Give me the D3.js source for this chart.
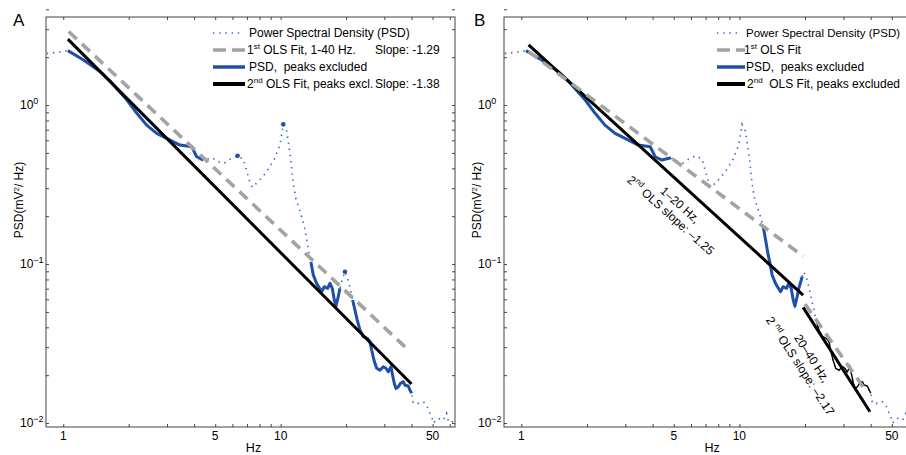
<!DOCTYPE html>
<html>
<head>
<meta charset="utf-8">
<script src="https://cdn.jsdelivr.net/npm/d3@7"></script>
<style>
  html, body { margin: 0; padding: 0; background: #fff; overflow: hidden; }
  svg { display: block; font-family: 'Liberation Sans', Arial, sans-serif; }
  text { white-space: pre; }
</style>
</head>
<body>
<svg width="906" height="455"></svg>
<script>
//  Power spectrum (Hz, mV^2/Hz)
const freqHz = [0.84, 0.97, 1.05, 1.24, 1.48, 1.64, 1.79, 1.96, 2.18, 2.42, 2.69, 2.99, 3.44, 3.90, 4.11, 4.41,
    4.85, 5.16, 5.49, 5.85, 6.34, 6.73, 6.90, 7.17, 7.40, 7.80, 8.56, 9.32, 9.93, 10.17, 10.28, 10.66, 10.92,
    11.15, 11.43, 11.72, 12.27, 12.84, 13.21, 13.54, 13.78, 14.13, 14.64, 15.44, 15.87, 16.45, 16.86, 17.28,
    17.65, 17.97, 18.41, 18.74, 19.41, 19.76, 20.33, 21.06, 21.44, 22.51, 23.16, 23.99, 25.02, 25.75, 26.22,
    26.87, 27.65, 28.63, 29.65, 30.51, 31.26, 32.17, 32.62, 33.32, 33.92, 34.75, 35.65, 36.64, 37.31, 38.64,
    39.34, 40.05, 40.74, 42.95, 45.29, 46.95, 47.75, 49.50, 50.35, 53.09, 55.98, 58.02, 59.02, 61.18, 63.36];
const psd = [2.11, 2.16, 2.20, 1.92, 1.62, 1.42, 1.24, 1.08, 0.887, 0.748, 0.664, 0.617, 0.560, 0.547, 0.473, 0.451,
    0.466, 0.440, 0.430, 0.457, 0.480, 0.457, 0.409, 0.338, 0.304, 0.325, 0.375, 0.451, 0.560, 0.686, 0.756, 0.686, 0.552,
    0.446, 0.322, 0.261, 0.215, 0.174, 0.140, 0.115, 0.103, 0.0853, 0.0756, 0.0670, 0.0720, 0.0704, 0.0756, 0.0704,
    0.0594, 0.0544, 0.0623, 0.0704, 0.0832, 0.0894, 0.0813, 0.0670, 0.0594, 0.0444, 0.0385, 0.0349, 0.0341, 0.0325, 0.0288,
    0.0249, 0.0221, 0.0215, 0.0226, 0.0221, 0.0210, 0.0226, 0.0205, 0.0178, 0.0165, 0.0169, 0.0178, 0.0182, 0.0173, 0.0171,
    0.0161, 0.0154, 0.0133, 0.0133, 0.0136, 0.0130, 0.0121, 0.0110, 0.0100, 0.0107, 0.0104, 0.0115, 0.0104, 0.0100, 0.0108];

//  Peak markers (panel A only)
const peakHz = [6.34, 10.28, 19.76];
const peakPsd = [0.480, 0.756, 0.0894];

//  Bands kept as "PSD, peaks excluded"  [from, to] Hz
const keptBandsA = [[1.05, 4.41], [13.78, 18.74], [21.44, 40.05]];
const keptBandsB = [[1.05, 4.85], [12.84, 19.41]];
const blackBandB = [22.51, 40.05];

//  OLS fits, end points [Hz] and [PSD]
const fit1A_hz = [1.06, 39];     const fit1A_psd = [2.9, 0.0285];
const fit2A_hz = [1.05, 40];     const fit2A_psd = [2.6, 0.0176];
const fit1Blo_hz = [1.08, 19.6]; const fit1Blo_psd = [2.17, 0.112];
const fit1Bhi_hz = [20, 38];     const fit1Bhi_psd = [0.056, 0.016];
const fit2Blo_hz = [1.08, 19.6]; const fit2Blo_psd = [2.39, 0.0638];
const fit2Bhi_hz = [19.6, 39.7]; const fit2Bhi_psd = [0.0534, 0.01178];

//  Axes
const xDomain = [0.833, 63.4];
const yDomain = [0.00944, 3.58];
const xTickLabels = [1, 5, 10, 50];
const xTicks = [1, 2, 3, 4, 5, 6, 7, 8, 9, 10, 20, 30, 40, 50, 60];
const yTickExp = [0, -1, -2];
const yTicks = [];
[0.01, 0.1, 1].forEach(d => { for (let k = 1; k <= 9; k++) yTicks.push(d * k); });

const BLUE = '#1f4fa8';
const DOT_BLUE = '#2f62cc';
const GRAY = '#a3a3a3';
const TOP = 17, BOTTOM = 427;

const svgHTML = d3.select('svg');

function pts(hz, p) { return hz.map((f, i) => [f, p[i]]); }
const psdPts = pts(freqHz, psd);
function inBand(band) { return psdPts.filter(d => d[0] >= band[0] - 1e-6 && d[0] <= band[1] + 1e-6); }

//======================================================
//  One panel: frame, ticks, labels
//======================================================
function makePanel(id, left, right) {
    const g = svgHTML.append('g').attr('id', id);
    const x = d3.scaleLog().domain(xDomain).range([left, right]);
    const y = d3.scaleLog().domain(yDomain).range([BOTTOM, TOP]);

    g.append('clipPath').attr('id', id + '_clip')
        .append('rect')
        .attr('x', left).attr('y', TOP)
        .attr('width', right - left).attr('height', BOTTOM - TOP);

    const axes = [
        [d3.axisBottom(x), BOTTOM, 0, xTicks],
        [d3.axisTop(x), TOP, 0, xTicks],
        [d3.axisLeft(y), 0, left, yTicks],
        [d3.axisRight(y), 0, right, yTicks]
    ];
    axes.forEach(([ax, ty, tx, vals]) => {
        const a = g.append('g')
            .attr('transform', `translate(${tx},${ty})`)
            .call(ax.tickValues(vals).tickSize(-3).tickSizeOuter(0).tickFormat(''));
        a.select('.domain').remove();
        a.selectAll('line').attr('stroke', '#444');
    });

    g.append('rect')
        .attr('x', left).attr('y', TOP)
        .attr('width', right - left).attr('height', BOTTOM - TOP)
        .attr('fill', 'none').attr('stroke', '#444').attr('stroke-width', 1);

    //  x tick labels
    g.selectAll('.xlab').data(xTickLabels).join('text')
        .attr('class', 'xlab')
        .attr('x', d => x(d)).attr('y', 440)
        .attr('text-anchor', 'middle')
        .attr('font-size', 12)
        .text(d => d);

    //  y tick labels 10^n
    const yl = g.selectAll('.ylab').data(yTickExp).join('text')
        .attr('class', 'ylab')
        .attr('x', left - 26).attr('y', d => y(Math.pow(10, d)) + 4)
        .attr('font-size', 12);
    yl.append('tspan').text('10');
    yl.append('tspan').attr('dy', -5).attr('font-size', 9).text(d => (d === 0 ? '0' : '\u2212' + (-d)));

    g.append('text')
        .attr('x', (left + right) / 2 + 3).attr('y', 452)
        .attr('text-anchor', 'middle').attr('font-size', 12.5)
        .text('Hz');

    const ylab = g.append('text')
        .attr('transform', `translate(${left - 23},200) rotate(-90)`)
        .attr('text-anchor', 'middle').attr('font-size', 12);
    ylab.append('tspan').text('PSD(mV');
    ylab.append('tspan').attr('dy', -4).attr('font-size', 8).text('2');
    ylab.append('tspan').attr('dy', 4).text('/ Hz)');

    const plot = g.append('g').attr('clip-path', `url(#${id}_clip)`);
    const line = d3.line().x(d => x(d[0])).y(d => y(d[1]));
    return { g, plot, x, y, line };
}

function dotted(p) {
    p.plot.append('path')
        .attr('d', p.line(psdPts))
        .attr('fill', 'none').attr('stroke', DOT_BLUE)
        .attr('stroke-width', 1.6).attr('stroke-dasharray', '1.4 4.8');
}
function solid(p, data, color, w) {
    p.plot.append('path')
        .attr('d', p.line(data))
        .attr('fill', 'none').attr('stroke', color)
        .attr('stroke-width', w).attr('stroke-linejoin', 'round');
}
function dashed(p, data) {
    p.plot.append('path')
        .attr('d', p.line(data))
        .attr('fill', 'none').attr('stroke', GRAY)
        .attr('stroke-width', 3.6).attr('stroke-dasharray', '11 7');
}

//  Legend rows: [kind, parts, textX, extra, fontSize] ; parts = [[text, sup?], ...]
function legend(g, sx0, sx1, rows) {
    rows.forEach((r, i) => {
        const cy = 33 + i * 17;
        const [kind, parts, tx] = r;
        const ln = g.append('line')
            .attr('x1', sx0).attr('x2', kind === 'dot' ? sx1 - 4 : sx1)
            .attr('y1', cy).attr('y2', cy).attr('fill', 'none');
        if (kind === 'dot') ln.attr('stroke', DOT_BLUE).attr('stroke-width', 1.6).attr('stroke-dasharray', '1.4 4.8');
        if (kind === 'dash') ln.attr('stroke', GRAY).attr('stroke-width', 3.6).attr('stroke-dasharray', '13 6');
        if (kind === 'blue') ln.attr('stroke', BLUE).attr('stroke-width', 3.5);
        if (kind === 'black') ln.attr('stroke', '#000').attr('stroke-width', 4);
        const t = g.append('text').attr('x', tx).attr('y', cy + 4).attr('font-size', r[4] || 12);
        let up = false;
        parts.forEach(([s, sup]) => {
            const ts = t.append('tspan').text(s);
            if (sup && !up) { ts.attr('dy', -5).attr('font-size', 8); up = true; }
            else if (!sup && up) { ts.attr('dy', 5); up = false; }
        });
        if (r[3]) g.append('text').attr('x', r[3][0]).attr('y', cy + 4).attr('font-size', 12).text(r[3][1]);
    });
}

//======================================================
//  Panel A
//======================================================
const pA = makePanel('panelA', 46, 455);
dotted(pA);
keptBandsA.forEach(b => solid(pA, inBand(b), BLUE, 3));
solid(pA, pts(fit2A_hz, fit2A_psd), '#000', 3);
dashed(pA, pts(fit1A_hz, fit1A_psd));
pA.plot.selectAll('.peak').data(pts(peakHz, peakPsd)).join('circle')
    .attr('class', 'peak')
    .attr('cx', d => pA.x(d[0])).attr('cy', d => pA.y(d[1]))
    .attr('r', 2.3).attr('fill', BLUE);

legend(pA.g, 213, 245, [
    ['dot', [['Power Spectral Density (PSD)']], 249],
    ['dash', [['1'], ['st', true], [' OLS Fit, 1-40 Hz.']], 247, [375, 'Slope: -1.29']],
    ['blue', [['PSD,  peaks excluded']], 249],
    ['black', [['2'], ['nd', true], [' OLS Fit, peaks excl.']], 247, [375, 'Slope: -1.38']]
]);

pA.g.append('text').attr('x', 13).attr('y', 26).attr('font-size', 17).text('A');

//======================================================
//  Panel B
//======================================================
const pB = makePanel('panelB', 504, 914.3);
dotted(pB);
keptBandsB.forEach(b => solid(pB, inBand(b), BLUE, 3));
solid(pB, inBand(blackBandB), '#000', 1.4);
solid(pB, pts(fit2Blo_hz, fit2Blo_psd), '#000', 3);
solid(pB, pts(fit2Bhi_hz, fit2Bhi_psd), '#000', 3);
dashed(pB, pts(fit1Blo_hz, fit1Blo_psd));
dashed(pB, pts(fit1Bhi_hz, fit1Bhi_psd));

legend(pB.g, 717, 745, [
    ['dot', [['Power Spectral Density (PSD)']], 746, null, 11.5],
    ['dash', [['1'], ['st', true], [' OLS Fit']], 744],
    ['blue', [['PSD,  peaks excluded']], 746],
    ['black', [['2'], ['nd', true], ['  OLS Fit, peaks excluded']], 747]
]);

pB.g.append('text').attr('x', 474).attr('y', 26).attr('font-size', 17).text('B');

//  Slope annotations along the fitted lines
function note(p, hz, val, angle, line1, line2a, line2b) {
    const a = p.g.append('g')
        .attr('transform', `translate(${p.x(hz)},${p.y(val)}) rotate(${angle})`);
    a.append('text').attr('y', 4).attr('text-anchor', 'middle').attr('font-size', 12).text(line1);
    const t = a.append('text').attr('y', 18).attr('text-anchor', 'middle').attr('font-size', 12);
    t.append('tspan').text(line2a);
    t.append('tspan').attr('dy', -5).attr('font-size', 8).text('nd');
    t.append('tspan').attr('dy', 5).text(line2b);
}
note(pB, 5.35, 0.235, 42, '1\u201320 Hz,', '2', ' OLS slope: \u20131.25');
note(pB, 21.5, 0.0255, 57, '20\u201340 Hz,', '2 ', ' OLS slope: \u20132.17');
</script>
</body>
</html>
